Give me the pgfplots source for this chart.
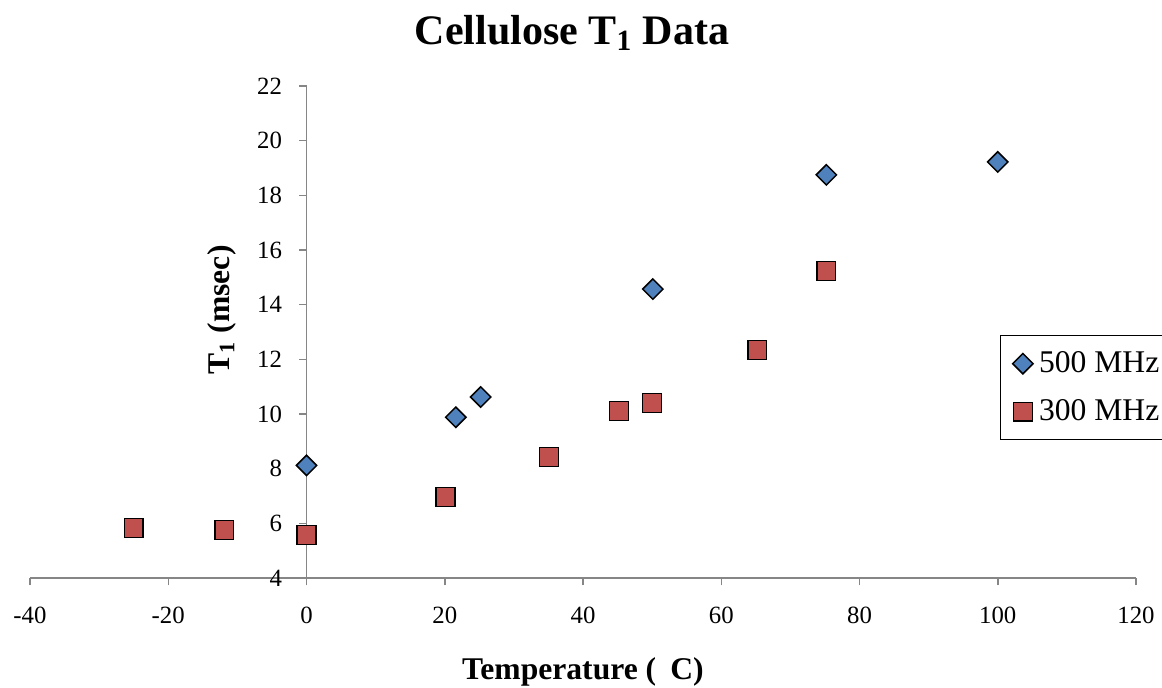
\documentclass[border=0pt]{standalone}
\usepackage{pgfplots}
\pgfplotsset{compat=1.18}
\usepackage{fontspec}
\setmainfont{Liberation Serif}
\usetikzlibrary{calc}
\definecolor{exblue}{HTML}{4F81BD}
\definecolor{exred}{HTML}{C0504D}
\definecolor{axgray}{HTML}{868686}
\begin{document}
\begin{tikzpicture}
\begin{axis}[
  name=ax, at={(0,0)}, anchor=south west,
  scale only axis, width=553pt, height=246pt,
  xmin=-40, xmax=120, ymin=4, ymax=22,
  axis x line=bottom, axis y line=middle,
  axis line style={-, draw=axgray, line width=0.75pt},
  hide obscured x ticks=false, hide obscured y ticks=false,
  xtick={-40,-20,...,120}, ytick={4,6,...,22},
  minor tick num=0,
  tick style={draw=axgray, line width=0.75pt},
  major tick length=3.75pt, tick align=outside,
  /pgf/number format/assume math mode=true,
  ticklabel style={font=\fontsize{12.4}{14}\selectfont},
  xticklabel style={yshift=-7pt},
  yticklabel style={xshift=-5pt},
  title={\textbf{Cellulose T\textsubscript{1} Data}},
  title style={at={(0.49,1.083)}, anchor=center, font=\fontsize{21}{24}\selectfont},
  xlabel={\textbf{Temperature (\hspace{0.45em}C)}},
  xlabel style={at={(0.5,-0.19)}, anchor=center, font=\fontsize{15.8}{18}\selectfont},
  ylabel={\textbf{T\textsubscript{1} (msec)}},
  ylabel style={at={(0.1736,0.545)}, anchor=center, rotate=90, font=\fontsize{15.8}{18}\selectfont},
  legend style={at={(0.877,0.494)}, anchor=north west, draw=black, line width=0.75pt,
    font=\fontsize{15.8}{18}\selectfont, inner xsep=6pt, inner ysep=6pt, row sep=8pt,
    column sep=1pt, legend cell align=left},
  legend image post style={line width=0.75pt},
]
\addplot[only marks, mark=square*, mark size=3.6pt,
  mark options={rotate=45, fill=exblue, draw=black, line width=0.75pt}]
  coordinates {(0,8.12) (21.6,9.88) (25.2,10.62) (50.1,14.57) (75.2,18.75) (100,19.22)};
\addlegendentry{500 MHz}
\addplot[only marks, mark=square*, mark size=4.7pt,
  mark options={fill=exred, draw=black, line width=0.75pt}]
  coordinates {(-25,5.83) (-11.9,5.76) (0,5.57) (20.1,6.96) (35.1,8.43) (45.2,10.11) (50,10.4) (65.2,12.34) (75.2,15.23)};
\addlegendentry{300 MHz}
\end{axis}
\pgfresetboundingbox
\path[use as bounding box] ($(ax.south west)+(-15pt,-55pt)$) rectangle ($(ax.south west)+(566pt,289pt)$);
\end{tikzpicture}
\end{document}
